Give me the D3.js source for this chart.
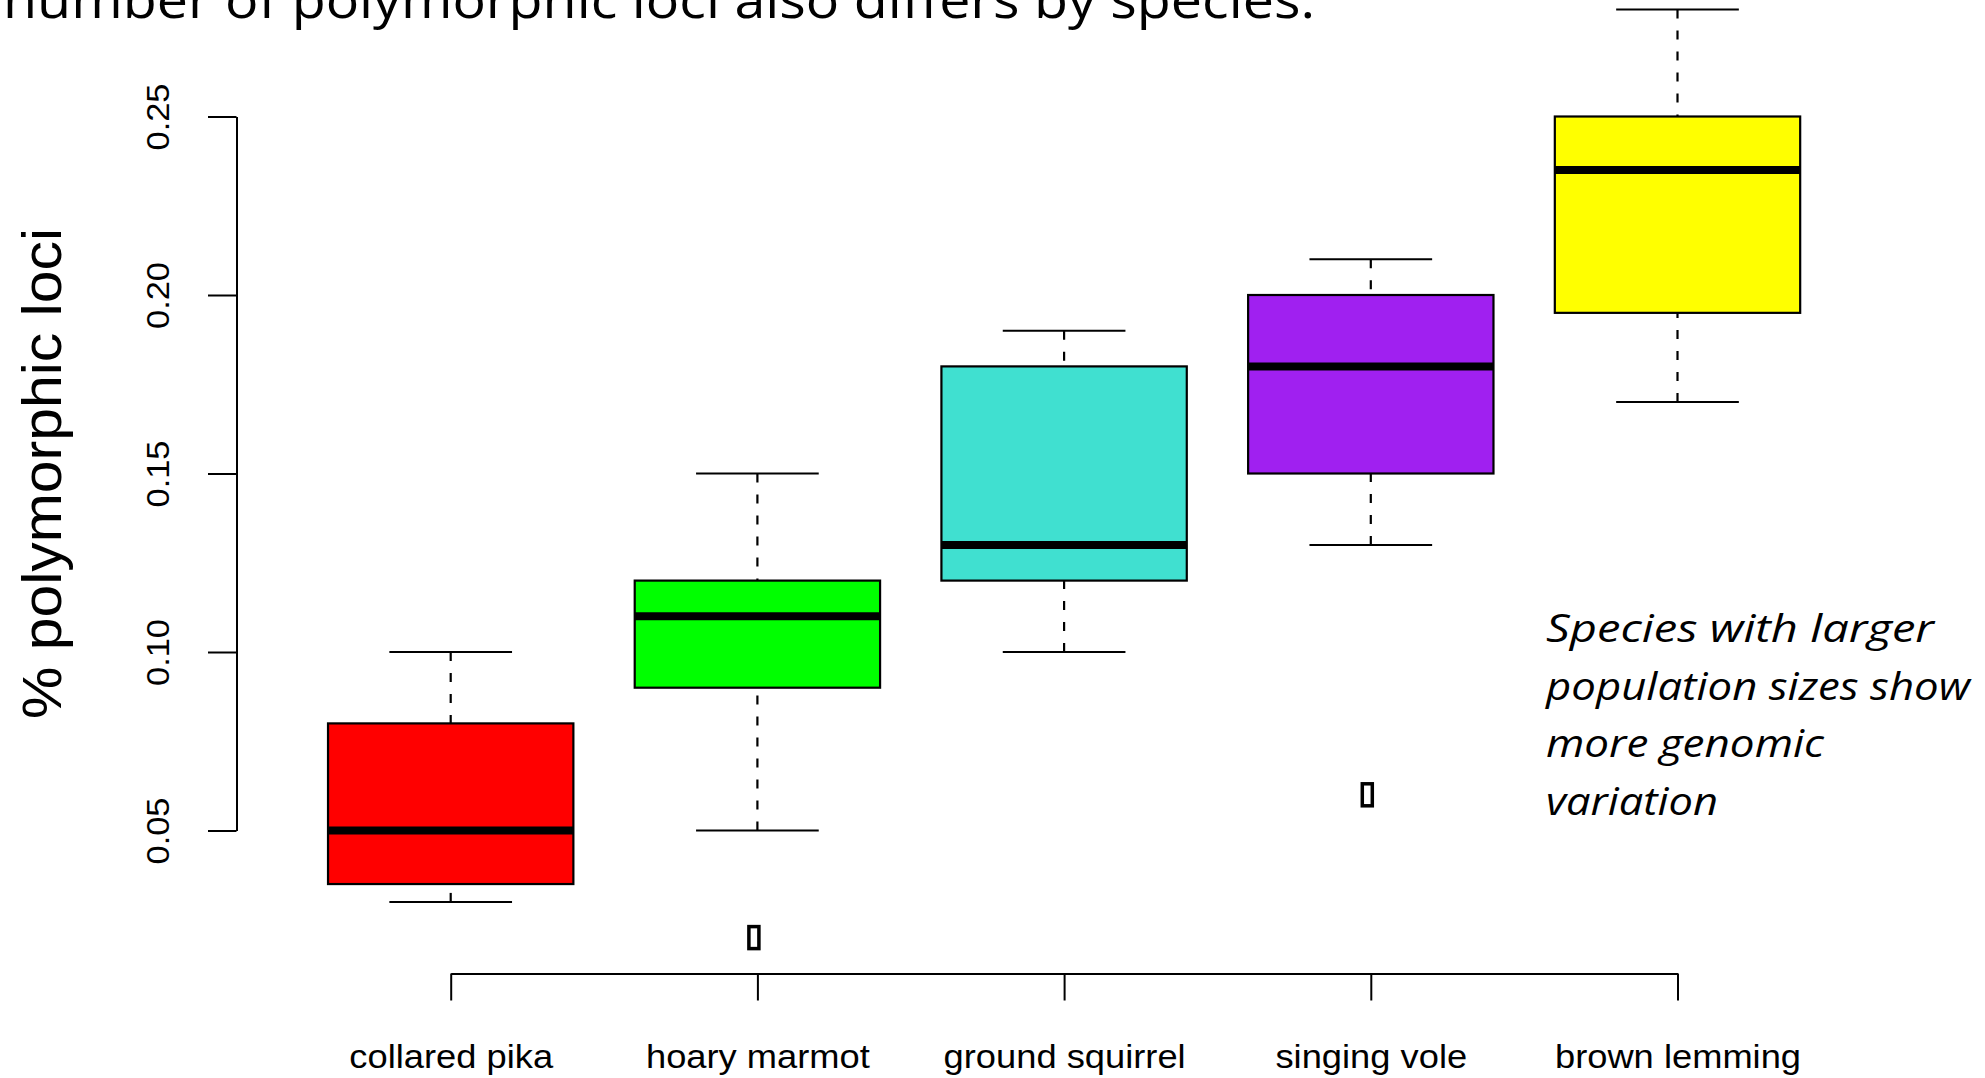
<!DOCTYPE html>
<html>
<head>
<meta charset="utf-8">
<script src="https://cdn.jsdelivr.net/npm/d3@7"></script>
<style>
  html, body { margin: 0; padding: 0; background: #fff; }
  svg { display: block; }
</style>
</head>
<body>
<div id="container"></div>
<script>
// species and their box stats
const species = ['collared pika', 'hoary marmot', 'ground squirrel', 'singing vole', 'brown lemming'];
const whiskerLow = [0.03, 0.05, 0.10, 0.13, 0.17];
const q1 = [0.035, 0.09, 0.12, 0.15, 0.195];
const median = [0.05, 0.11, 0.13, 0.18, 0.235];
const q3 = [0.08, 0.12, 0.18, 0.20, 0.25];
const whiskerHigh = [0.10, 0.15, 0.19, 0.21, 0.28];
const fills = ['#ff0000', '#00ff00', '#40e0d0', '#a020f0', '#ffff00'];
const outliers = [
  { species: 'hoary marmot', value: 0.02 },
  { species: 'singing vole', value: 0.06 }
];
const yTicks = [0.05, 0.10, 0.15, 0.20, 0.25];
const titleText = 'number of polymorphic loci also differs by species.';
const noteLines = ['Species with larger', 'population sizes show', 'more genomic', 'variation'];
const noteWidths = [388, 424, 278, 172];

const W = 1985, H = 1078;

const svg = d3.select('#container')
  .append('svg')
  .attr('width', W)
  .attr('height', H);

const y = d3.scaleLinear().domain([0.05, 0.25]).range([830.5, 116.5]);
const x = d3.scalePoint().domain(species).range([450.7, 1677.5]);
const step = x.step();
const boxW = step * 0.8;
const capW = boxW * 0.5;

const data = species.map((s, i) => ({
  name: s, lo: whiskerLow[i], q1: q1[i], med: median[i], q3: q3[i], hi: whiskerHigh[i], fill: fills[i]
}));

// title (cut off at top in the original)
svg.append('text')
  .attr('x', 3)
  .attr('y', 18)
  .attr('font-family', 'Open Sans, sans-serif')
  .attr('font-size', 52)
  .attr('textLength', 1312)
  .attr('lengthAdjust', 'spacingAndGlyphs')
  .attr('fill', '#000')
  .text(titleText);

// y axis
const yAxis = svg.append('g')
  .attr('transform', 'translate(236.5,0)')
  .call(d3.axisLeft(y).tickValues(yTicks).tickSize(28.5).tickSizeOuter(0).tickFormat(d3.format('.2f')));
yAxis.select('.domain').attr('stroke', '#000').attr('stroke-width', 2);
yAxis.selectAll('.tick line').attr('stroke', '#000').attr('stroke-width', 2);
yAxis.selectAll('.tick text')
  .attr('font-family', 'Liberation Sans, Arial, sans-serif')
  .attr('font-size', 31)
  .attr('fill', '#000')
  .attr('text-anchor', 'middle')
  .attr('x', null)
  .attr('dy', null)
  .attr('textLength', 67)
  .attr('lengthAdjust', 'spacingAndGlyphs')
  .attr('transform', 'translate(-68,0) rotate(-90)');

// y axis title
svg.append('text')
  .attr('transform', `translate(61,${y(0.15)}) rotate(-90)`)
  .attr('text-anchor', 'middle')
  .attr('font-family', 'Liberation Sans, Arial, sans-serif')
  .attr('font-size', 55)
  .attr('textLength', 491)
  .attr('lengthAdjust', 'spacingAndGlyphs')
  .attr('fill', '#000')
  .text('% polymorphic loci');

// x axis
const xAxis = svg.append('g')
  .attr('transform', 'translate(0,973.5)')
  .call(d3.axisBottom(x).tickSize(27).tickSizeOuter(0));
xAxis.select('.domain').attr('stroke', '#000').attr('stroke-width', 2);
xAxis.selectAll('.tick line').attr('stroke', '#000').attr('stroke-width', 2);
xAxis.selectAll('.tick text')
  .attr('font-family', 'Liberation Sans, Arial, sans-serif')
  .attr('font-size', 33)
  .attr('fill', '#000')
  .attr('y', 94)
  .attr('dy', null)
  .attr('textLength', function(d) { return this.getComputedTextLength() * 1.1; })
  .attr('lengthAdjust', 'spacingAndGlyphs');

// boxes
const g = svg.selectAll('.box')
  .data(data)
  .enter()
  .append('g')
  .attr('class', 'box');

// whiskers (dashed)
g.append('line')
  .attr('x1', d => x(d.name)).attr('x2', d => x(d.name))
  .attr('y1', d => y(d.hi)).attr('y2', d => y(d.q3))
  .attr('stroke', '#000').attr('stroke-width', 2.2)
  .attr('stroke-dasharray', '9,12');
g.append('line')
  .attr('x1', d => x(d.name)).attr('x2', d => x(d.name))
  .attr('y1', d => y(d.lo)).attr('y2', d => y(d.q1))
  .attr('stroke', '#000').attr('stroke-width', 2.2)
  .attr('stroke-dasharray', '9,12');

// whisker caps
g.append('line')
  .attr('x1', d => x(d.name) - capW / 2).attr('x2', d => x(d.name) + capW / 2)
  .attr('y1', d => y(d.hi)).attr('y2', d => y(d.hi))
  .attr('stroke', '#000').attr('stroke-width', 2);
g.append('line')
  .attr('x1', d => x(d.name) - capW / 2).attr('x2', d => x(d.name) + capW / 2)
  .attr('y1', d => y(d.lo)).attr('y2', d => y(d.lo))
  .attr('stroke', '#000').attr('stroke-width', 2);

g.append('rect')
  .attr('x', d => x(d.name) - boxW / 2)
  .attr('width', boxW)
  .attr('y', d => y(d.q3))
  .attr('height', d => y(d.q1) - y(d.q3))
  .attr('fill', d => d.fill)
  .attr('stroke', '#000')
  .attr('stroke-width', 2.2);

g.append('line')
  .attr('x1', d => x(d.name) - boxW / 2).attr('x2', d => x(d.name) + boxW / 2)
  .attr('y1', d => y(d.med)).attr('y2', d => y(d.med))
  .attr('stroke', '#000').attr('stroke-width', 8);

// outliers (drawn as small hollow marks)
svg.selectAll('.outlier')
  .data(outliers)
  .enter()
  .append('rect')
  .attr('class', 'outlier')
  .attr('x', d => x(d.species) - 3.5 - 5)
  .attr('y', d => y(d.value) - 11)
  .attr('width', 10)
  .attr('height', 22)
  .attr('fill', 'none')
  .attr('stroke', '#000')
  .attr('stroke-width', 3.5);

// annotation
const note = svg.append('g')
  .attr('font-family', 'Open Sans, sans-serif')
  .attr('font-style', 'italic')
  .attr('font-size', 39)
  .attr('fill', '#000');
note.selectAll('text')
  .data(noteLines)
  .enter()
  .append('text')
  .attr('x', 1546)
  .attr('y', (d, i) => 642 + i * 57.5)
  .attr('textLength', (d, i) => noteWidths[i])
  .attr('lengthAdjust', 'spacingAndGlyphs')
  .text(d => d);
</script>
</body>
</html>
